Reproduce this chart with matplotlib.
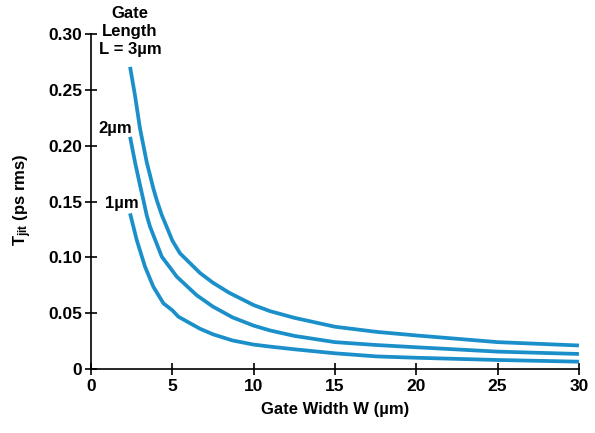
import numpy as np
import matplotlib
matplotlib.use('Agg')
from matplotlib import pyplot as plt

# data (gate width in um, jitter in ps rms)
w_3um = [2.40, 2.70, 3.01, 3.42, 3.83, 4.04, 4.35, 4.65, 5.0, 5.47, 6.70, 7.5, 8.5,
         10.0, 11.0, 12.5, 15.0, 17.56, 20.0, 25.0, 30.0]
t_3um = [0.2707, 0.2454, 0.2156, 0.1856, 0.1618, 0.1513, 0.1379, 0.1274, 0.1150, 0.1036,
         0.0860, 0.0772, 0.0682, 0.0572, 0.0518, 0.0458, 0.0378, 0.0332, 0.0300, 0.0240, 0.0210]

w_2um = [2.40, 2.70, 3.01, 3.22, 3.42, 3.63, 4.35, 5.0, 5.27, 6.50, 7.5, 8.7, 10.0, 11.0,
         12.5, 15.0, 17.56, 20.0, 25.0, 30.0]
t_2um = [0.2080, 0.1856, 0.1648, 0.1513, 0.1379, 0.1274, 0.1006, 0.0880, 0.0827, 0.0660,
         0.0558, 0.0462, 0.0388, 0.0345, 0.0296, 0.0240, 0.0214, 0.0194, 0.0155, 0.0134]

w_1um = [2.40, 2.81, 3.32, 3.83, 4.45, 5.0, 5.37, 6.70, 7.5, 8.7, 10.0, 11.0, 12.5, 15.0,
         17.56, 20.0, 25.0, 30.0]
t_1um = [0.1394, 0.1155, 0.0916, 0.0737, 0.0588, 0.0525, 0.0468, 0.0360, 0.0310, 0.0255,
         0.0218, 0.0200, 0.0176, 0.0140, 0.0112, 0.0100, 0.0080, 0.0065]

x_ticks = [0, 5, 10, 15, 20, 25, 30]
y_ticks = [0, 0.05, 0.10, 0.15, 0.20, 0.25, 0.30]
y_labels = ['0', '0.05', '0.10', '0.15', '0.20', '0.25', '0.30']

plt.rcParams['font.family'] = ['Liberation Sans', 'DejaVu Sans']
plt.rcParams['font.weight'] = 'bold'
plt.rcParams['mathtext.fontset'] = 'custom'
plt.rcParams['mathtext.rm'] = 'Liberation Sans:bold'
plt.rcParams['mathtext.it'] = 'Liberation Sans:bold'
plt.rcParams['mathtext.bf'] = 'Liberation Sans:bold'

blue = '#1a8fc9'

fig = plt.figure(figsize=(5.95, 4.33), dpi=100)
ax = fig.add_axes([0.153, 0.148, 0.820, 0.773])

for w, t in [(w_3um, t_3um), (w_2um, t_2um), (w_1um, t_1um)]:
    ax.plot(w, t, color=blue, lw=2.7, solid_capstyle='butt', solid_joinstyle='round')

ax.set_xlim(0, 30)
ax.set_ylim(0, 0.30)
ax.set_xticks(x_ticks)
ax.set_yticks(y_ticks)
ax.set_yticklabels(y_labels)
ax.spines['top'].set_visible(False)
ax.spines['right'].set_visible(False)
ax.tick_params(direction='inout', length=9, width=1.2, labelsize=12.5, pad=2)
ax.tick_params(axis='x', pad=3)
for s in ['left', 'bottom']:
    ax.spines[s].set_linewidth(1.2)

ax.set_xlabel('Gate Width W (µm)', fontsize=12, fontweight='bold')
ax.set_ylabel(r'T$_{\rm jit}$ (ps rms)', fontsize=12, fontweight='bold')
ax.xaxis.set_label_coords(0.5, -0.0985)
ax.yaxis.set_label_coords(-0.117, 0.504)

ax.text(2.4, 0.3027, 'Gate\nLength\nL = 3µm', ha='center', va='center',
        fontsize=12, fontweight='bold', linespacing=1.25, clip_on=False)
ax.text(1.475, 0.2158, '2µm', ha='center', va='center', fontsize=12, fontweight='bold')
ax.text(1.906, 0.1487, '1µm', ha='center', va='center', fontsize=12, fontweight='bold')

plt.savefig('out.png', dpi=100)
